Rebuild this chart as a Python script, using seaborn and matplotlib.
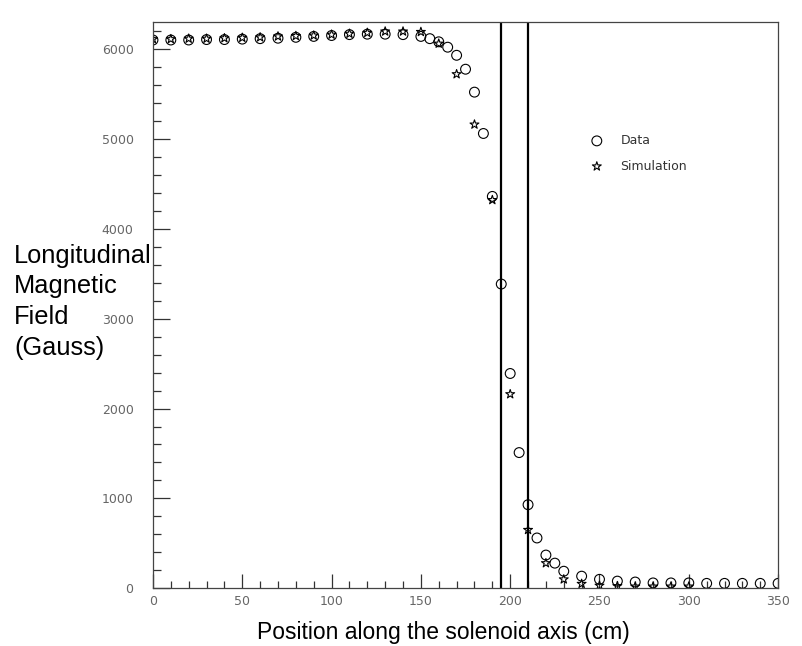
import pandas as pd
import matplotlib
matplotlib.use("Agg")
import matplotlib.pyplot as plt
import seaborn as sns
from matplotlib.ticker import MultipleLocator

# measured field (circles)
data_pos = [0, 10, 20, 30, 40, 50, 60, 70, 80, 90, 100, 110, 120, 130, 140,
            150, 155, 160, 165, 170, 175, 180, 185, 190, 195, 200, 205, 210,
            215, 220, 225, 230, 240, 250, 260, 270, 280, 290, 300, 310, 320,
            330, 340, 350]
data_field = [6100, 6100, 6100, 6105, 6105, 6110, 6115, 6120, 6130, 6140,
              6150, 6160, 6165, 6165, 6160, 6140, 6115, 6080, 6020, 5930,
              5775, 5520, 5060, 4360, 3385, 2390, 1510, 930, 560, 370, 280,
              190, 135, 100, 80, 70, 60, 60, 60, 55, 55, 55, 55, 55]

# simulated field (stars)
sim_pos = [0, 10, 20, 30, 40, 50, 60, 70, 80, 90, 100, 110, 120, 130, 140,
           150, 160, 170, 180, 190, 200, 210, 220, 230, 240, 250, 260, 270,
           280, 290, 300]
sim_field = [6110, 6110, 6115, 6115, 6120, 6125, 6130, 6140, 6145, 6150,
             6160, 6170, 6180, 6195, 6195, 6190, 6060, 5720, 5160, 4320,
             2160, 650, 280, 100, 50, 30, 25, 20, 20, 20, 20]

# coil edges (vertical lines)
edges = [195, 210]

ylabel_lines = ["Longitudinal", "Magnetic", "Field", "(Gauss)"]

df_data = pd.DataFrame({"pos": data_pos, "field": data_field})
df_sim = pd.DataFrame({"pos": sim_pos, "field": sim_field})

sns.set_style("white")
plt.rcParams["font.family"] = ["DejaVu Sans"]

fig = plt.figure(figsize=(8.03, 6.46), dpi=100)
ax = fig.add_axes([0.1905, 0.0893, 0.7785, 0.8766])

sns.scatterplot(data=df_data, x="pos", y="field", ax=ax, marker="o", s=50,
                facecolors="none", edgecolors="black", linewidth=0.8,
                label="Data")
sns.scatterplot(data=df_sim, x="pos", y="field", ax=ax, marker="*", s=45,
                facecolors="none", edgecolors="black", linewidth=0.8,
                label="Simulation")

for e in edges:
    ax.axvline(e, color="black", lw=1.6)

ax.set_xlim(0, 350)
ax.set_ylim(0, 6300)
ax.xaxis.set_major_locator(MultipleLocator(50))
ax.xaxis.set_minor_locator(MultipleLocator(10))
ax.yaxis.set_major_locator(MultipleLocator(1000))
ax.yaxis.set_minor_locator(MultipleLocator(200))
ax.tick_params(which="both", direction="in", color="#333333", width=0.9,
               labelcolor="#666666", labelsize=9, bottom=True, left=True,
               top=False, right=False)
ax.tick_params(axis="y", which="major", length=12, pad=14)
ax.tick_params(axis="y", which="minor", length=6)
ax.tick_params(axis="x", which="major", length=10, pad=5)
ax.tick_params(axis="x", which="minor", length=5)
for sp in ax.spines.values():
    sp.set_color("#444444")
    sp.set_linewidth(0.9)

ax.set_xlabel("")
ax.set_ylabel("")
fig.text(443 / 803, 1 - 632 / 646, "Position along the solenoid axis (cm)",
         fontsize=16.5, family="Liberation Sans", color="black",
         ha="center", va="center")
# y label drawn line by line, like the original
for i, line in enumerate(ylabel_lines):
    fig.text(14 / 803, 1 - (253 + 30.7 * i) / 646, line,
             fontsize=18.3, family="Liberation Sans", color="black",
             ha="left", va="center_baseline")

leg = ax.legend(loc="center left", bbox_to_anchor=(0.70, 0.768), frameon=False,
                fontsize=9, handlelength=1.0, handletextpad=1.4,
                borderpad=0, borderaxespad=0, labelspacing=1.0)
for t in leg.get_texts():
    t.set_color("#333333")

fig.savefig("out.png", dpi=100)
